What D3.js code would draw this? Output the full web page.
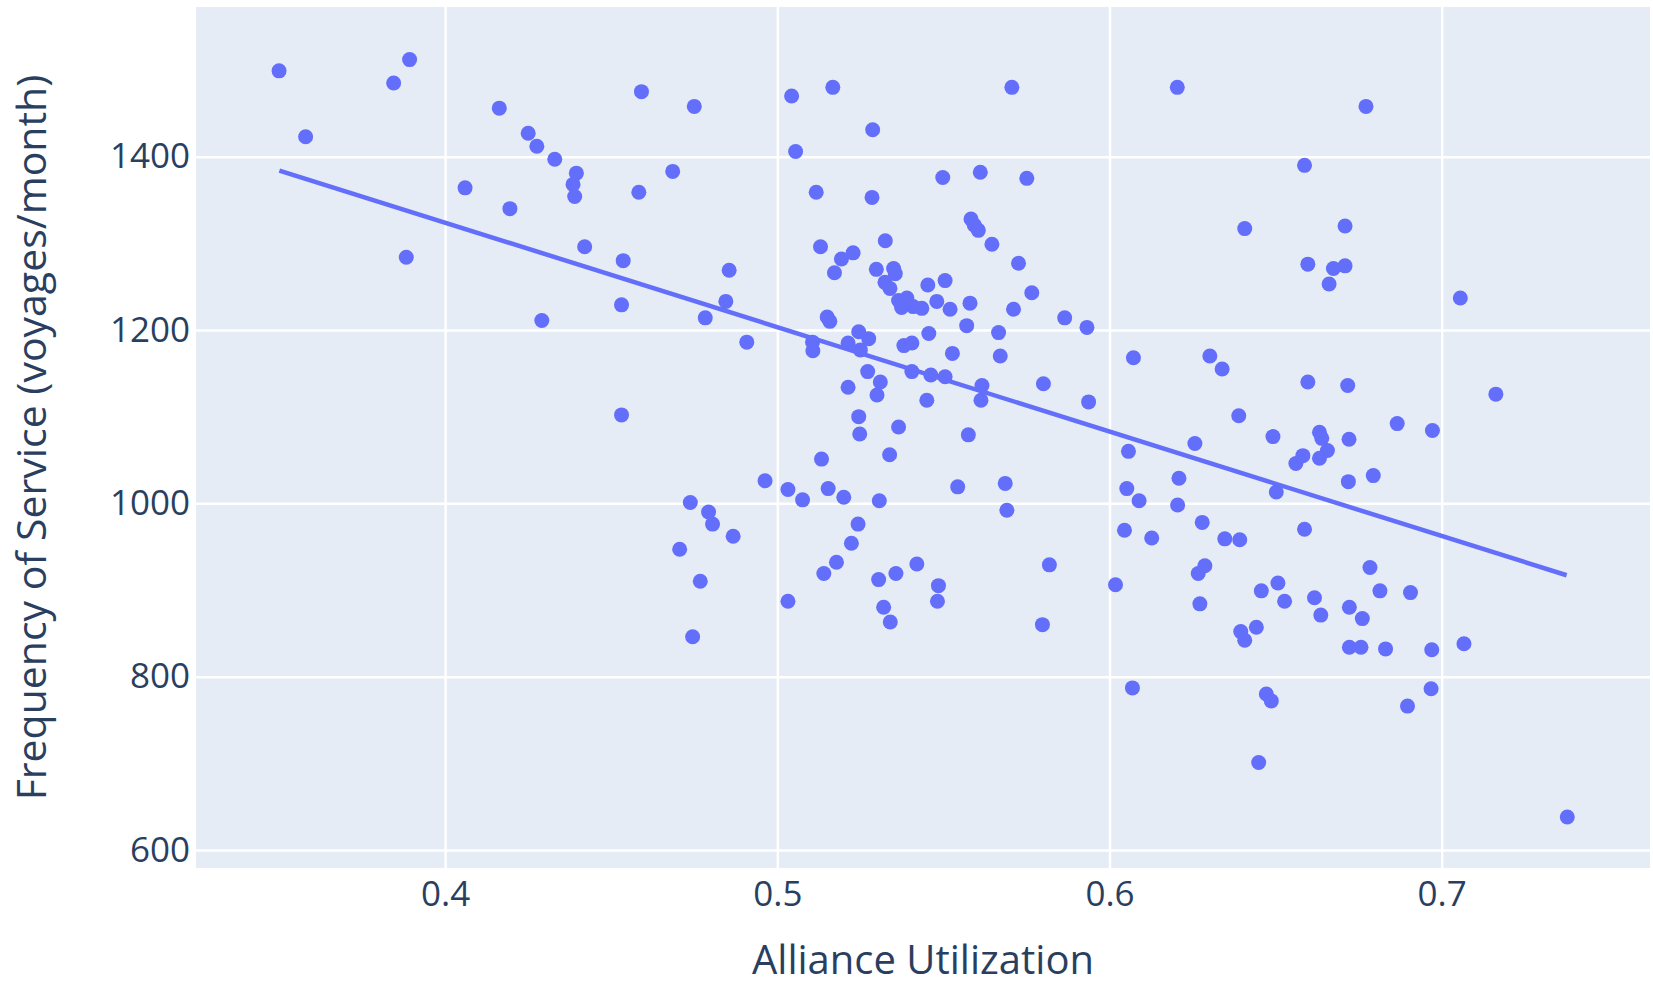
<!DOCTYPE html>
<html><head><meta charset="utf-8">
<script src="https://cdn.jsdelivr.net/npm/d3@7"></script>
<style>body{margin:0;background:#fff}svg{display:block}</style>
</head><body><div id="chart"></div>
<script>
// Data
const utilization = [0.350,0.358,0.3845,0.3893,0.3883,0.406,0.4163,0.4195,0.425,0.4276,0.4291,0.433,0.4395,0.4385,0.439,0.442,
0.4536,0.4531,0.4531,0.4591,0.4583,0.4685,0.475,0.4706,0.4738,0.4745,0.4768,0.4793,0.4805,0.4783,0.4845,0.4855,0.4867,0.4908,0.4963,
0.5032,0.5043,0.5032,0.5055,0.5076,0.5106,0.5107,0.5117,0.513,0.5133,0.514,0.515,0.5158,0.5153,0.5167,0.5178,0.5172,0.5193,0.52,0.5213,0.5213,0.5228,0.5223,0.5243,0.5245,0.5248,0.5245,0.525,0.5275,0.5272,0.5287,0.5285,0.5298,0.53,0.531,0.5307,0.532,0.5325,0.5324,0.5305,0.5339,0.5338,0.534,0.535,0.5355,0.5357,0.5365,0.5365,0.5374,0.5381,0.539,0.5405,0.5405,0.5435,0.542,0.5409,0.548,0.5456,0.545,0.5453,0.5462,0.5485,0.5482,0.5498,0.5505,0.5505,0.552,0.5527,0.5543,0.557,0.5575,0.5583,0.5593,0.5605,0.558,
0.5611,0.5616,0.5613,0.5646,0.5666,0.5671,0.5686,0.5691,0.5706,0.5711,0.5726,0.5751,0.5766,0.5801,0.5798,0.5819,0.5865,0.5932,0.5937,
0.6018,0.6045,0.6057,0.6052,0.6069,0.6072,0.6089,0.6127,0.6204,0.6209,0.6205,0.6257,0.6267,0.6272,0.6279,0.6287,0.6302,0.6339,0.6347,0.6392,0.6389,0.6395,0.6407,0.6407,0.6442,0.6449,0.6457,0.6472,0.6487,0.6492,0.6502,0.6507,
0.6527,0.6561,0.6582,0.6587,0.6587,0.6597,0.6597,0.6617,0.6632,0.6639,0.6656,0.6632,0.6636,0.6661,0.6674,0.6709,0.6709,0.6717,0.6721,0.6719,0.6722,0.6722,0.6761,0.6757,0.6772,0.6784,0.6794,0.6814,0.6831,0.6866,0.6897,0.6906,0.6968,0.697,0.6972,
0.7056,0.7067,0.7163,0.7378];
const frequency = [1499,1423,1485,1512,1284,1364,1456,1340,1427,1412,1211,1397,1381,1368,1354,1296,
1280,1229,1102,1475,1359,1383,1458,947,1001,846,910,990,976,1214,1233,1269,962,1186,1026,
1016,1470,887,1406,1004,1186,1176,1359,1296,1051,919,1215,1210,1017,1480,932,1266,1282,1007,1134,1185,1289,954,976,1100,1080,1198,1177,1190,1152,1431,1353,1270,1125,1140,1003,880,1303,1255,912,1248,1056,863,1271,1265,919,1088,1234,1226,1182,1237,1152,1185,1225,930,1227,1233,1196,1119,1252,1148,905,887,1376,1257,1146,1224,1173,1019,1205,1079,1328,1321,1315,1231,
1382,1136,1119,1299,1197,1170,1023,992,1480,1224,1277,1375,1243,1138,860,929,1214,1203,1117,
906,969,1060,1017,787,1168,1003,960,1480,1029,998,1069,919,884,978,928,1170,1155,959,958,1101,852,1317,842,857,701,899,780,772,1077,1013,908,
887,1046,1055,1390,970,1276,1140,891,1082,1075,1061,1052,871,1253,1271,1274,1320,1136,1074,1025,834,880,867,834,1458,926,1032,899,832,1092,766,897,786,831,1084,
1237,838,1126,638];
const trendX = [0.3501, 0.7376];
const trendY = [1384, 917];
const xTicks = [0.4, 0.5, 0.6, 0.7];
const yTicks = [600, 800, 1000, 1200, 1400];
const xTitle = "Alliance Utilization";
const yTitle = "Frequency of Service (voyages/month)";

const W = 1653, H = 987;
const L = 196, R = 1650, T = 7, B = 868;
const font = "'Open Sans', sans-serif", ink = "#2a3f5f";

const x = d3.scaleLinear().domain([0.3250, 0.7627]).range([L, R]);
const y = d3.scaleLinear().domain([579.2, 1572.7]).range([B, T]);

const svg = d3.select("#chart").append("svg").attr("width", W).attr("height", H);
svg.append("rect").attr("x", L).attr("y", T).attr("width", R - L).attr("height", B - T).attr("fill", "#E5ECF6");

const gx = svg.append("g").attr("transform", `translate(0,${B})`)
  .call(d3.axisBottom(x).tickValues(xTicks).tickSize(-(B - T)).tickPadding(13).tickFormat(d3.format(".1f")));
const gy = svg.append("g").attr("transform", `translate(${L},0)`)
  .call(d3.axisLeft(y).tickValues(yTicks).tickSize(-(R - L)).tickPadding(6).tickFormat(d3.format("d")));
[gx, gy].forEach(g => {
  g.select(".domain").remove();
  g.selectAll(".tick line").attr("stroke", "#fff").attr("stroke-width", 2.5);
  g.selectAll(".tick text").attr("fill", ink).style("font-family", font).style("font-size", "35px");
});
gx.selectAll(".tick text").attr("dy", "0.71em");

const pts = utilization.map((u, i) => [u, frequency[i]]);
svg.append("g").selectAll("circle").data(pts).join("circle")
  .attr("cx", d => x(d[0])).attr("cy", d => y(d[1])).attr("r", 7.5)
  .attr("fill", "#636EFA");

svg.append("path").datum(trendX.map((v, i) => [v, trendY[i]]))
  .attr("d", d3.line().x(d => x(d[0])).y(d => y(d[1])))
  .attr("stroke", "#636EFA").attr("stroke-width", 4.5).attr("fill", "none");

svg.append("text").attr("x", (L + R) / 2).attr("y", 974).attr("text-anchor", "middle")
  .attr("fill", ink).style("font-family", font).style("font-size", "40px").text(xTitle);
svg.append("text").attr("transform", `translate(35,${(T + B) / 2}) rotate(-90)`).attr("text-anchor", "middle").attr("dominant-baseline", "middle")
  .attr("fill", ink).style("font-family", font).style("font-size", "41px").text(yTitle);
</script></body></html>
